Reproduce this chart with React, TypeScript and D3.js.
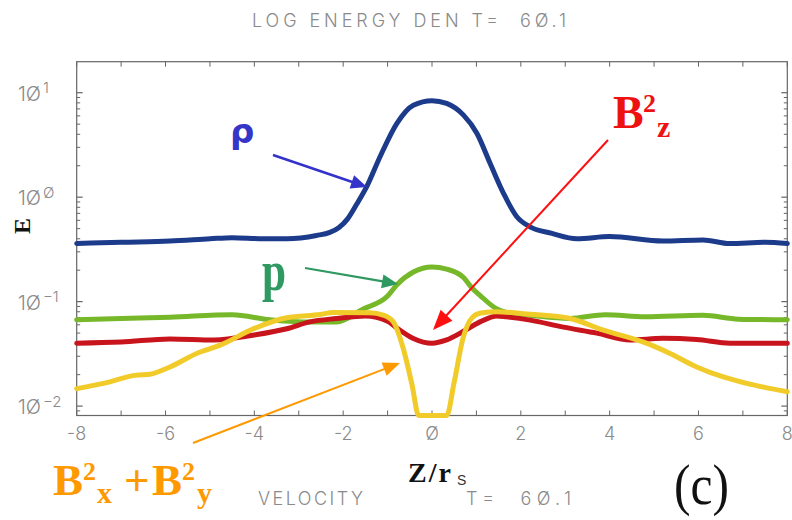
import React from "react";
import * as d3 from "d3";

// Energy density profiles along z (log scale), T = 60.1
const zRho = [-8, -7, -5.9, -5, -4.5, -3.8, -3.26, -2.6, -2.3, -2.1, -1.9, -1.7, -1.47, -1.17, -0.79, -0.42, 0, 0.33, 0.71, 1.01, 1.31, 1.61, 1.91, 2.21, 2.7, 3.26, 4.0, 5.2, 6.1, 6.7, 7.5, 8];
const rho = [0.36, 0.37, 0.38, 0.4, 0.41, 0.4, 0.4, 0.43, 0.46, 0.51, 0.62, 0.85, 1.26, 2.44, 5.1, 7.6, 8.4, 7.9, 6.1, 4.1, 2.1, 1.09, 0.65, 0.52, 0.45, 0.4, 0.42, 0.38, 0.39, 0.36, 0.37, 0.36];

const zP = [-8, -7, -5.9, -4.5, -3.65, -2.9, -2.15, -1.55, -1.0, -0.79, -0.42, 0, 0.33, 0.71, 0.9, 1.08, 1.46, 1.8, 2.2, 3.1, 3.9, 4.8, 6.1, 6.9, 8];
const pressure = [0.067, 0.069, 0.071, 0.075, 0.067, 0.064, 0.064, 0.085, 0.113, 0.145, 0.192, 0.215, 0.205, 0.17, 0.135, 0.115, 0.085, 0.077, 0.074, 0.069, 0.075, 0.0715, 0.074, 0.068, 0.067];

const zBz = [-8, -7, -5.9, -4.9, -4.0, -3.27, -2.75, -2.15, -1.5, -1.0, -0.79, -0.42, 0, 0.33, 0.71, 1.08, 1.46, 1.68, 2.21, 2.96, 3.71, 4.46, 5.2, 5.96, 6.71, 8];
const bz2 = [0.04, 0.041, 0.044, 0.043, 0.048, 0.055, 0.064, 0.069, 0.073, 0.065, 0.056, 0.0444, 0.04, 0.043, 0.052, 0.064, 0.073, 0.0715, 0.0665, 0.057, 0.05, 0.043, 0.0445, 0.0434, 0.04, 0.04];

const zBxy = [-8, -7.4, -6.65, -6.35, -5.9, -5.3, -4.77, -4.0, -3.27, -2.52, -2.22, -1.4, -1.1, -0.87, -0.65, -0.45, -0.3, 0, 0.33, 0.5, 0.7, 0.9, 1.1, 1.46, 2.21, 3.11, 3.86, 4.84, 5.36, 5.96, 6.56, 7.09, 8];
const bxy2 = [0.0147, 0.0165, 0.0198, 0.0202, 0.0237, 0.0319, 0.0383, 0.0554, 0.07, 0.0754, 0.0788, 0.0781, 0.0743, 0.064, 0.036, 0.016, 0.006, 0.006, 0.006, 0.017, 0.045, 0.07, 0.078, 0.08, 0.0757, 0.069, 0.0533, 0.0398, 0.0319, 0.0237, 0.019, 0.0165, 0.0137];

const zTicks = d3.range(-8, 9, 1);
const zLabels = [-8, -6, -4, -2, 0, 2, 4, 6, 8];
const decades = [-2, -1, 0, 1];

const W = 792;
const H = 520;
const plot = { left: 76.7, right: 787.3, top: 61.7, bottom: 415.5 };

const x = d3.scaleLinear().domain([-8, 8]).range([plot.left, plot.right]);
const y = d3
  .scaleLog()
  .domain([Math.pow(10, -2.09), Math.pow(10, 1.297)])
  .range([plot.bottom, plot.top])
  .clamp(true);

const line = d3
  .line<[number, number]>()
  .x((d) => x(d[0]))
  .y((d) => y(d[1]))
  .curve(d3.curveMonotoneX);

const zip = (zs: number[], vs: number[]) => zs.map((z, i) => [z, vs[i]] as [number, number]);

const curves = [
  { key: "rho", data: zip(zRho, rho), color: "#1d3b8b" },
  { key: "p", data: zip(zP, pressure), color: "#76b82a" },
  { key: "bz", data: zip(zBz, bz2), color: "#c8141c" },
  { key: "bxy", data: zip(zBxy, bxy2), color: "#f1cb2a" },
];

const [yMin, yMax] = y.domain();
const minorTicks: number[] = [];
for (let d = -3; d <= 1; d++) {
  for (let k = 2; k <= 9; k++) {
    const v = k * Math.pow(10, d);
    if (v > yMin && v < yMax) minorTicks.push(v);
  }
}

// plotter-style numerals draw zero with a slash
const slashZero = (s: string) => s.replace(/0/g, "\u00d8");

const axisText: React.CSSProperties = {
  fontFamily: "Inter, 'DejaVu Sans', sans-serif",
  fontWeight: 300,
  fill: "#8a8a8a",
  whiteSpace: "pre",
};

const serif = "'Liberation Serif', 'Times New Roman', Times, serif";
const serifBold: React.CSSProperties = {
  fontFamily: serif,
  fontWeight: 700,
};

function Arrow({
  x1, y1, x2, y2, color, width, head, half,
}: {
  x1: number; y1: number; x2: number; y2: number;
  color: string; width: number; head: number; half: number;
}) {
  const a = Math.atan2(y2 - y1, x2 - x1);
  const c = Math.cos(a);
  const s = Math.sin(a);
  const bx = x2 - head * c;
  const by = y2 - head * s;
  const pts = [
    [x2, y2],
    [bx + half * s, by - half * c],
    [bx - half * s, by + half * c],
  ]
    .map((p) => p.join(","))
    .join(" ");
  return (
    <g>
      <line x1={x1} y1={y1} x2={bx + 2 * c} y2={by + 2 * s} stroke={color} strokeWidth={width} />
      <polygon points={pts} fill={color} />
    </g>
  );
}

export default function App() {
  const tickColor = "#666";
  return (
    <svg
      width={W}
      height={H}
      viewBox={`0 0 ${W} ${H}`}
      style={{ position: "absolute", left: 0, top: 0, background: "#fff" }}
    >
      <rect x={0} y={0} width={W} height={H} fill="#fff" />

      {/* title */}
      <text x={252} y={27} fontSize={18} style={axisText} textLength={314} lengthAdjust="spacing">
        {slashZero("LOG ENERGY DEN T=  60.1")}
      </text>

      {/* frame */}
      <rect
        x={plot.left}
        y={plot.top}
        width={plot.right - plot.left}
        height={plot.bottom - plot.top}
        fill="none"
        stroke={tickColor}
        strokeWidth={1.2}
      />

      {/* z ticks, bottom and top */}
      {zTicks.map((t) => (
        <g key={`zt${t}`} stroke={tickColor} strokeWidth={1}>
          <line x1={x(t)} x2={x(t)} y1={plot.bottom} y2={plot.bottom - 5} />
          <line x1={x(t)} x2={x(t)} y1={plot.top} y2={plot.top + 5} />
        </g>
      ))}
      {zLabels.map((t) => (
        <text key={`zl${t}`} x={x(t)} y={440} fontSize={18} textAnchor="middle" style={axisText}>
          {slashZero(t < 0 ? `-${-t}` : `${t}`)}
        </text>
      ))}

      {/* log ticks, left and right */}
      {decades.map((d) => {
        const yy = y(Math.pow(10, d));
        return (
          <g key={`yd${d}`} stroke={tickColor} strokeWidth={1.2}>
            <line x1={plot.left} x2={plot.left + 6} y1={yy} y2={yy} />
            <line x1={plot.right} x2={plot.right - 6} y1={yy} y2={yy} />
          </g>
        );
      })}
      {minorTicks.map((v) => {
        const yy = y(v);
        return (
          <g key={`ym${v}`} stroke={tickColor} strokeWidth={1}>
            <line x1={plot.left} x2={plot.left + 3.5} y1={yy} y2={yy} />
            <line x1={plot.right} x2={plot.right - 3.5} y1={yy} y2={yy} />
          </g>
        );
      })}
      {decades.map((d) => {
        const yy = y(Math.pow(10, d));
        const exp = d < 0 ? `\u2212${-d}` : slashZero(`${d}`);
        return (
          <g key={`yl${d}`}>
            <text x={41} y={yy + 8} fontSize={20} textAnchor="end" style={axisText}>
              {slashZero("10")}
            </text>
            <text x={43} y={yy + 0.5} fontSize={15} style={axisText}>
              {exp}
            </text>
          </g>
        );
      })}

      {/* axis titles */}
      <text
        transform="translate(30,226) rotate(-90)"
        textAnchor="middle"
        fontSize={24}
        style={{ ...serifBold, fill: "#111" }}
      >
        E
      </text>
      <text x={408} y={482} fontSize={28} letterSpacing={2} style={{ ...serifBold, fill: "#111" }}>
        Z/r
      </text>
      <text x={457} y={485} fontSize={14} style={{ fontFamily: "'Liberation Sans', Arial, sans-serif", fill: "#333" }}>
        S
      </text>

      {/* data curves */}
      <g fill="none" strokeLinejoin="round" strokeLinecap="round">
        {curves.map((c) => (
          <path key={c.key} d={line(c.data) ?? ""} stroke={c.color} strokeWidth={5} />
        ))}
      </g>

      {/* footer */}
      <text x={258} y={505} fontSize={18} style={axisText} textLength={105} lengthAdjust="spacing">
        VELOCITY
      </text>
      <text x={466} y={505} fontSize={18} style={axisText} textLength={105} lengthAdjust="spacing">
        {slashZero("T=  60.1")}
      </text>
      <text
        x={674}
        y={504}
        fontSize={56}
        textLength={55}
        lengthAdjust="spacingAndGlyphs"
        style={{ fontFamily: serif, fill: "#111" }}
      >
        (c)
      </text>

      {/* annotations */}
      <text x={230} y={143} fontSize={34} style={{ fontFamily: "'DejaVu Sans', sans-serif", fontWeight: 700, fill: "#3535c8" }}>
        ρ
      </text>
      <Arrow x1={273} y1={155} x2={367} y2={187} color="#3333cc" width={2.5} head={16} half={7} />

      <text x={262} y={290} fontSize={56} textLength={24} lengthAdjust="spacingAndGlyphs" style={{ ...serifBold, fill: "#2e9960" }}>
        p
      </text>
      <Arrow x1={305} y1={268} x2={398} y2={284} color="#2e9960" width={2.2} head={16} half={7} />

      <g style={{ ...serifBold, fill: "#ee1111" }}>
        <text x={613} y={128} fontSize={46}>B</text>
        <text x={643} y={112} fontSize={26}>2</text>
        <text x={657} y={137} fontSize={30}>z</text>
      </g>
      <Arrow x1={608} y1={140} x2={433} y2={330} color="#ff1010" width={2} head={20} half={8} />

      <g style={{ ...serifBold, fill: "#ff9900" }}>
        <text x={53} y={495} fontSize={45}>B</text>
        <text x={83} y={480} fontSize={26}>2</text>
        <text x={97} y={503} fontSize={30}>x</text>
        <text x={124} y={495} fontSize={45}>+</text>
        <text x={152} y={495} fontSize={45}>B</text>
        <text x={182} y={480} fontSize={26}>2</text>
        <text x={197} y={503} fontSize={30}>y</text>
      </g>
      <Arrow x1={193} y1={443} x2={400} y2={363} color="#ff9900" width={2} head={17} half={7} />
    </svg>
  );
}
